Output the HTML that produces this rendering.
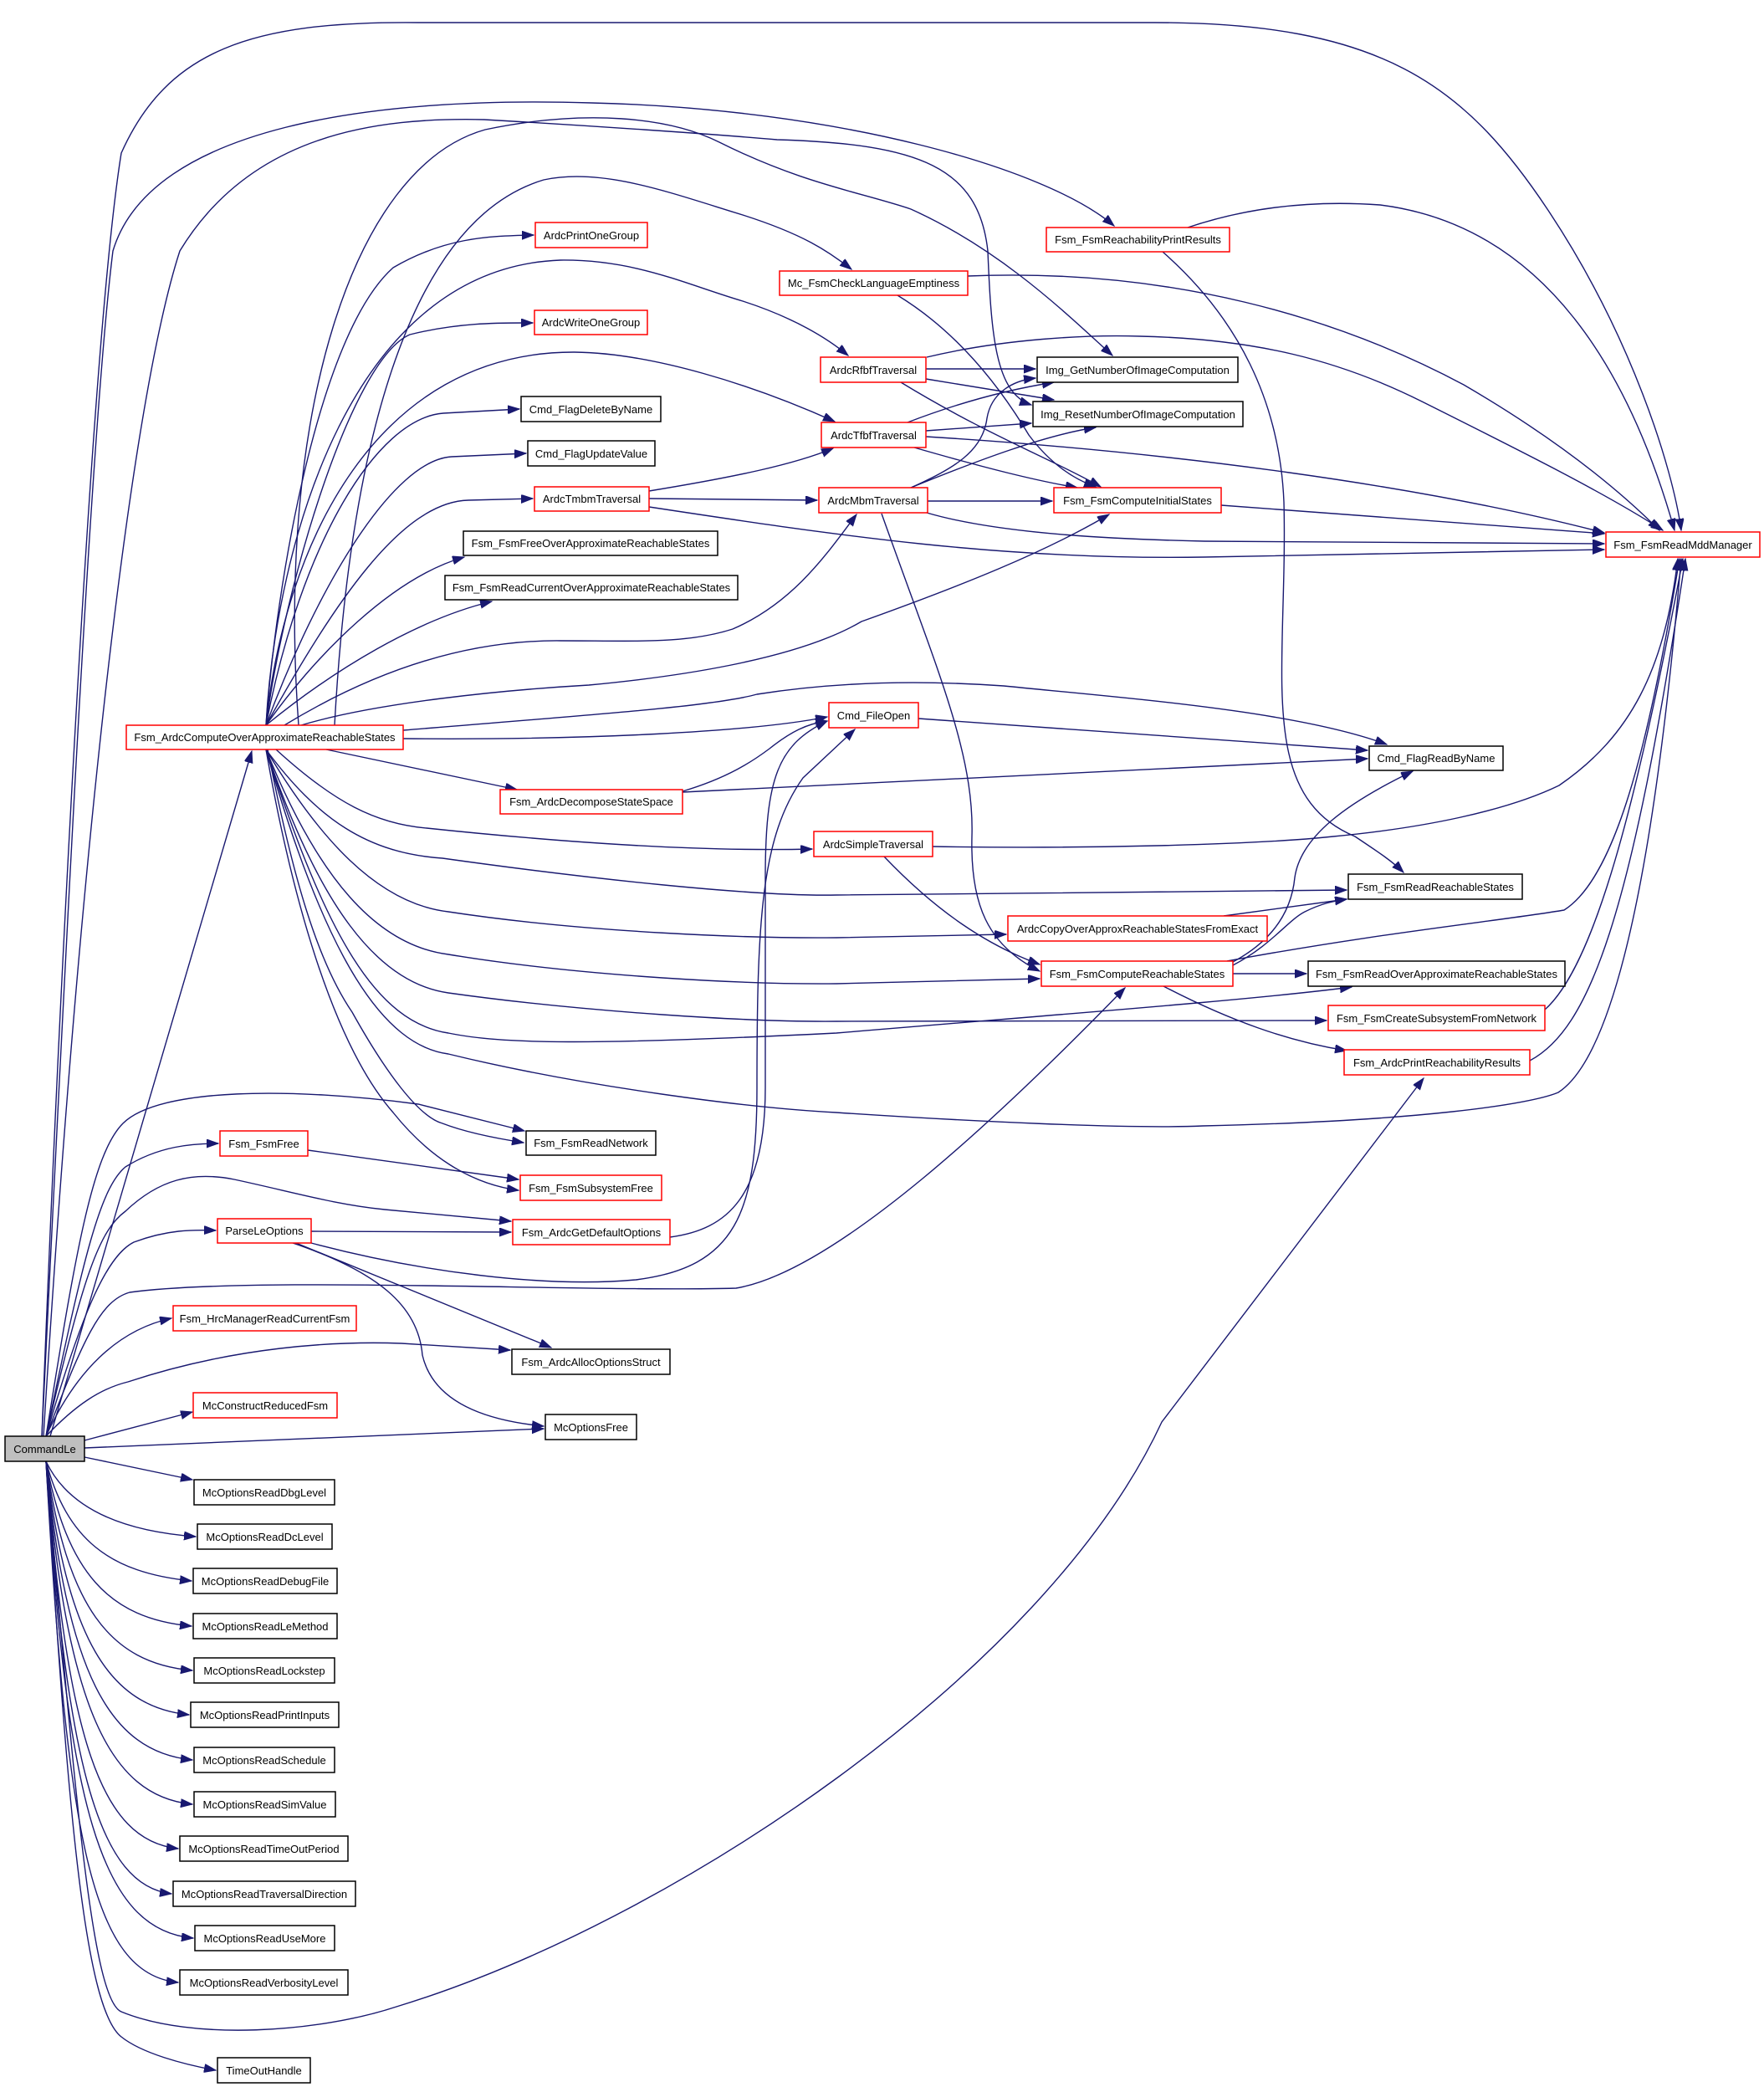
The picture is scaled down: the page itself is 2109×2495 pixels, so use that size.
<!DOCTYPE html>
<html><head><meta charset="utf-8"><style>
html,body{margin:0;padding:0;background:#fff}
svg{display:block}
text{font-family:"Liberation Sans",Arial,sans-serif;font-size:13px;fill:#000}
.e{fill:none;stroke:#191970;stroke-width:1.4}
.n{fill:#fff;stroke:#000;stroke-width:1.5}
.r{fill:#fff;stroke:#ff0000;stroke-width:1.5}
</style></head><body>
<svg width="2109" height="2495" viewBox="0 0 2109 2495" xmlns="http://www.w3.org/2000/svg">
<defs><marker id="a" markerUnits="userSpaceOnUse" markerWidth="16" markerHeight="12" refX="14" refY="5" orient="auto"><path d="M0,0 L14,5 L0,10 z" fill="#191970" stroke="#191970"/></marker></defs>
<g class="e" marker-end="url(#a)">
<path d="M50,1717 C70,1200 110,400 145,183 C200,60 300,25 500,27 L1380,27 C1650,27 1750,100 1850,250 C1950,400 2000,560 2010,634"/>
<path d="M50,1717 C80,1100 110,500 135,300 C180,150 450,115 707,123 C1000,130 1250,200 1332,270"/>
<path d="M52,1717 C90,1100 150,500 215,300 C300,160 450,140 579,143 C700,150 850,160 929,167 C1100,172 1170,200 1181,300 C1185,400 1190,470 1233,484"/>
<path d="M60,1717 L301,898"/>
<path d="M55,1717 C90,1500 110,1380 147,1343 C190,1300 350,1300 500,1320 L627,1352"/>
<path d="M55,1717 C100,1500 120,1420 150,1395 C190,1370 230,1367 261,1367"/>
<path d="M55,1717 C100,1520 120,1470 150,1448 C190,1410 230,1400 280,1410 C350,1425 400,1440 460,1446 L611,1460"/>
<path d="M55,1717 C100,1560 130,1500 160,1485 C200,1470 230,1470 258,1471"/>
<path d="M55,1717 C100,1600 120,1555 155,1545 C300,1525 700,1545 880,1540 C1000,1520 1200,1330 1345,1181"/>
<path d="M372,1486 C500,1520 650,1540 760,1530 C880,1515 905,1450 905,1300 C905,1100 910,1000 960,930 L1022,872"/>
<path d="M801,1479 C870,1470 915,1430 915,1300 L915,1050 C915,930 930,890 989,862"/>
<path d="M55,1717 C90,1640 140,1590 205,1576"/>
<path d="M55,1717 C90,1680 120,1660 153,1652 C280,1610 400,1603 480,1606 L610,1614"/>
<path d="M101,1722 L230,1688"/>
<path d="M101,1731 L650,1708"/>
<path d="M350,1486 C450,1520 500,1560 505,1620 C520,1685 600,1700 650,1705"/>
<path d="M354,1486 L659,1611"/>
<path d="M372,1472 L611,1473"/>
<path d="M368,1375 L620,1410"/>
<path d="M101,1742 L230,1769"/>
<path d="M55,1747 C80,1800 140,1830 234,1837"/>
<path d="M55,1747 C80,1840 130,1880 229,1890"/>
<path d="M55,1747 C80,1880 130,1935 229,1944"/>
<path d="M55,1747 C80,1920 130,1988 230,1997"/>
<path d="M55,1747 C80,1960 130,2040 226,2050"/>
<path d="M55,1747 C80,2000 130,2094 230,2104"/>
<path d="M55,1747 C80,2040 130,2147 230,2157"/>
<path d="M55,1747 C80,2080 120,2200 213,2210"/>
<path d="M55,1747 C80,2120 120,2254 205,2264"/>
<path d="M55,1747 C80,2160 120,2307 231,2317"/>
<path d="M55,1747 C80,2200 110,2360 213,2370"/>
<path d="M55,1747 C80,2150 100,2400 145,2435 C170,2455 220,2468 258,2475"/>
<path d="M55,1747 C90,2150 110,2390 145,2405 C230,2440 380,2430 474,2399 C800,2300 1250,2000 1389,1700 L1702,1289"/>
<path d="M318,867 C330,700 380,400 470,320 C530,285 580,282 638,281"/>
<path d="M318,867 C340,700 420,430 490,400 C550,385 600,386 637,386"/>
<path d="M318,867 C330,650 420,320 670,311 C760,310 820,340 888,360 C950,380 990,405 1014,425"/>
<path d="M318,867 C340,650 450,420 687,421 C780,422 900,460 998,504"/>
<path d="M318,867 C360,650 450,500 530,494 L621,489"/>
<path d="M318,867 C380,700 470,550 540,546 L629,542"/>
<path d="M318,867 C400,720 480,600 560,598 L637,596"/>
<path d="M318,867 C380,780 470,690 555,666"/>
<path d="M318,867 C400,800 500,740 588,719"/>
<path d="M340,867 C450,800 560,765 670,766 C760,766 820,770 876,752 C950,720 990,660 1024,615"/>
<path d="M360,867 C450,840 600,825 704,819 C800,810 950,790 1030,743 C1150,700 1250,660 1326,615"/>
<path d="M482,873 C700,855 850,845 905,830 C1000,815 1100,813 1200,820 C1350,835 1550,850 1658,890"/>
<path d="M357,867 C330,500 420,200 580,155 C700,130 800,140 860,170 C960,220 1030,230 1089,250 C1200,300 1280,380 1330,425"/>
<path d="M400,867 C420,500 500,260 650,215 C720,200 800,230 888,257 C960,280 990,300 1018,322"/>
<path d="M482,883 C700,885 900,875 989,857"/>
<path d="M390,896 L618,944"/>
<path d="M330,896 C400,960 450,985 510,990 C700,1010 850,1018 971,1015"/>
<path d="M318,896 C380,980 440,1020 529,1026 C700,1050 900,1072 1000,1070 C1200,1068 1450,1066 1610,1064"/>
<path d="M318,896 C380,1000 450,1080 536,1090 C700,1115 900,1122 1000,1121 L1203,1117"/>
<path d="M318,896 C380,1050 450,1130 536,1141 C700,1168 900,1177 1000,1176 L1243,1170"/>
<path d="M318,896 C380,1080 450,1175 536,1187 C700,1210 900,1222 1000,1221 L1586,1220"/>
<path d="M318,896 C390,1120 450,1222 536,1235 C600,1248 700,1250 1000,1235 C1300,1210 1500,1195 1616,1180"/>
<path d="M318,896 C390,1150 460,1250 536,1260 C700,1300 900,1325 1000,1330 C1150,1340 1350,1350 1438,1346 C1700,1340 1830,1320 1863,1306 C1950,1250 1990,900 2010,668"/>
<path d="M320,896 C350,1050 380,1150 421,1210 C460,1280 500,1335 529,1343 C560,1355 600,1362 626,1366"/>
<path d="M318,896 C350,1080 400,1250 470,1330 C510,1380 560,1415 620,1423"/>
<path d="M1157,330 C1400,320 1600,380 1750,460 C1870,530 1940,590 1984,634"/>
<path d="M1073,353 C1150,400 1200,470 1230,520 C1260,560 1290,575 1310,582"/>
<path d="M1420,272 C1500,245 1580,240 1650,245 C1850,270 1950,450 2002,634"/>
<path d="M1390,301 C1480,380 1530,480 1535,600 C1540,800 1500,950 1620,1000 C1650,1020 1665,1030 1678,1043"/>
<path d="M1107,441 L1238,441"/>
<path d="M1107,453 L1260,478"/>
<path d="M1077,457 C1180,520 1260,550 1316,582"/>
<path d="M1108,427 C1200,405 1300,400 1363,402 C1500,405 1600,430 1700,480 C1820,540 1920,590 1988,634"/>
<path d="M1085,505 C1150,480 1210,465 1260,457"/>
<path d="M1107,515 L1233,506"/>
<path d="M1093,535 C1180,560 1240,575 1288,583"/>
<path d="M1107,522 C1400,540 1700,580 1918,637"/>
<path d="M776,587 C880,570 950,555 996,536"/>
<path d="M776,596 L977,598"/>
<path d="M776,606 C1000,640 1200,670 1440,666 C1650,663 1800,660 1918,657"/>
<path d="M1109,599 L1258,599"/>
<path d="M1089,583 C1140,560 1175,540 1180,500 C1185,470 1210,455 1238,452"/>
<path d="M1089,583 C1170,550 1250,520 1310,511"/>
<path d="M1108,613 C1200,640 1350,645 1440,647 L1918,650"/>
<path d="M1054,614 C1120,800 1165,900 1162,1000 C1160,1080 1180,1130 1243,1161"/>
<path d="M1460,604 L1918,638"/>
<path d="M1098,859 L1635,897"/>
<path d="M816,946 C870,930 900,910 920,895 C945,875 965,865 989,862"/>
<path d="M816,947 L1635,907"/>
<path d="M1115,1012 C1300,1015 1500,1010 1594,1000 C1700,990 1800,970 1864,939 C1950,880 1990,800 2006,668"/>
<path d="M1057,1024 C1120,1090 1180,1130 1243,1153"/>
<path d="M1463,1095 L1610,1075"/>
<path d="M1474,1154 C1520,1130 1540,1100 1560,1090 C1580,1080 1595,1077 1610,1075"/>
<path d="M1474,1150 C1530,1120 1545,1080 1548,1049 C1555,1000 1610,960 1689,922"/>
<path d="M1467,1149 C1650,1115 1800,1100 1870,1088 C1930,1050 1970,900 2008,668"/>
<path d="M1474,1164 L1562,1164"/>
<path d="M1391,1179 C1470,1220 1540,1245 1610,1256"/>
<path d="M1847,1207 C1900,1160 1950,1000 2012,668"/>
<path d="M1829,1268 C1900,1230 1950,1100 2015,668"/>
</g>
<g>
<rect x="6" y="1717" width="95" height="30" fill="#bfbfbf" stroke="#000" stroke-width="1.5"/><text x="53.5" y="1737" text-anchor="middle">CommandLe</text>
<rect class="r" x="231" y="1665" width="172" height="30"/><text x="317" y="1685" text-anchor="middle">McConstructReducedFsm</text>
<rect class="n" x="652" y="1691" width="109" height="30"/><text x="706.5" y="1711" text-anchor="middle">McOptionsFree</text>
<rect class="n" x="232" y="1769" width="168" height="30"/><text x="316" y="1789" text-anchor="middle">McOptionsReadDbgLevel</text>
<rect class="n" x="236" y="1822" width="161" height="30"/><text x="316.5" y="1842" text-anchor="middle">McOptionsReadDcLevel</text>
<rect class="n" x="231" y="1875" width="172" height="30"/><text x="317" y="1895" text-anchor="middle">McOptionsReadDebugFile</text>
<rect class="n" x="231" y="1929" width="172" height="30"/><text x="317" y="1949" text-anchor="middle">McOptionsReadLeMethod</text>
<rect class="n" x="232" y="1982" width="168" height="30"/><text x="316" y="2002" text-anchor="middle">McOptionsReadLockstep</text>
<rect class="n" x="228" y="2035" width="177" height="30"/><text x="316.5" y="2055" text-anchor="middle">McOptionsReadPrintInputs</text>
<rect class="n" x="232" y="2089" width="168" height="30"/><text x="316" y="2109" text-anchor="middle">McOptionsReadSchedule</text>
<rect class="n" x="232" y="2142" width="169" height="30"/><text x="316.5" y="2162" text-anchor="middle">McOptionsReadSimValue</text>
<rect class="n" x="215" y="2195" width="201" height="30"/><text x="315.5" y="2215" text-anchor="middle">McOptionsReadTimeOutPeriod</text>
<rect class="n" x="207" y="2249" width="218" height="30"/><text x="316" y="2269" text-anchor="middle">McOptionsReadTraversalDirection</text>
<rect class="n" x="233" y="2302" width="167" height="30"/><text x="316.5" y="2322" text-anchor="middle">McOptionsReadUseMore</text>
<rect class="n" x="215" y="2355" width="201" height="30"/><text x="315.5" y="2375" text-anchor="middle">McOptionsReadVerbosityLevel</text>
<rect class="n" x="260" y="2460" width="111" height="30"/><text x="315.5" y="2480" text-anchor="middle">TimeOutHandle</text>
<rect class="r" x="640" y="266" width="134" height="30"/><text x="707" y="286" text-anchor="middle">ArdcPrintOneGroup</text>
<rect class="r" x="932" y="324" width="225" height="29"/><text x="1044.5" y="343" text-anchor="middle">Mc_FsmCheckLanguageEmptiness</text>
<rect class="r" x="639" y="371" width="135" height="29"/><text x="706.5" y="390" text-anchor="middle">ArdcWriteOneGroup</text>
<rect class="r" x="981" y="427" width="126" height="30"/><text x="1044" y="447" text-anchor="middle">ArdcRfbfTraversal</text>
<rect class="n" x="623" y="474" width="167" height="30"/><text x="706.5" y="494" text-anchor="middle">Cmd_FlagDeleteByName</text>
<rect class="n" x="631" y="527" width="152" height="30"/><text x="707" y="547" text-anchor="middle">Cmd_FlagUpdateValue</text>
<rect class="r" x="982" y="505" width="125" height="30"/><text x="1044.5" y="525" text-anchor="middle">ArdcTfbfTraversal</text>
<rect class="r" x="639" y="582" width="137" height="29"/><text x="707.5" y="601" text-anchor="middle">ArdcTmbmTraversal</text>
<rect class="r" x="979" y="583" width="130" height="30"/><text x="1044" y="603" text-anchor="middle">ArdcMbmTraversal</text>
<rect class="n" x="554" y="635" width="304" height="29"/><text x="706" y="654" text-anchor="middle">Fsm_FsmFreeOverApproximateReachableStates</text>
<rect class="n" x="532" y="688" width="350" height="29"/><text x="707" y="707" text-anchor="middle">Fsm_FsmReadCurrentOverApproximateReachableStates</text>
<rect class="r" x="151" y="867" width="331" height="29"/><text x="316.5" y="886" text-anchor="middle">Fsm_ArdcComputeOverApproximateReachableStates</text>
<rect class="r" x="598" y="944" width="218" height="29"/><text x="707" y="963" text-anchor="middle">Fsm_ArdcDecomposeStateSpace</text>
<rect class="r" x="991" y="840" width="107" height="30"/><text x="1044.5" y="860" text-anchor="middle">Cmd_FileOpen</text>
<rect class="r" x="1251" y="272" width="219" height="29"/><text x="1360.5" y="291" text-anchor="middle">Fsm_FsmReachabilityPrintResults</text>
<rect class="n" x="1240" y="427" width="240" height="30"/><text x="1360" y="447" text-anchor="middle">Img_GetNumberOfImageComputation</text>
<rect class="n" x="1235" y="480" width="251" height="30"/><text x="1360.5" y="500" text-anchor="middle">Img_ResetNumberOfImageComputation</text>
<rect class="r" x="1260" y="583" width="200" height="30"/><text x="1360" y="603" text-anchor="middle">Fsm_FsmComputeInitialStates</text>
<rect class="r" x="1920" y="636" width="184" height="30"/><text x="2012" y="656" text-anchor="middle">Fsm_FsmReadMddManager</text>
<rect class="n" x="1637" y="892" width="160" height="29"/><text x="1717" y="911" text-anchor="middle">Cmd_FlagReadByName</text>
<rect class="r" x="973" y="994" width="142" height="30"/><text x="1044" y="1014" text-anchor="middle">ArdcSimpleTraversal</text>
<rect class="n" x="1612" y="1045" width="208" height="30"/><text x="1716" y="1065" text-anchor="middle">Fsm_FsmReadReachableStates</text>
<rect class="r" x="1205" y="1095" width="310" height="30"/><text x="1360" y="1115" text-anchor="middle">ArdcCopyOverApproxReachableStatesFromExact</text>
<rect class="r" x="1245" y="1149" width="229" height="30"/><text x="1359.5" y="1169" text-anchor="middle">Fsm_FsmComputeReachableStates</text>
<rect class="n" x="1564" y="1149" width="307" height="30"/><text x="1717.5" y="1169" text-anchor="middle">Fsm_FsmReadOverApproximateReachableStates</text>
<rect class="r" x="1588" y="1202" width="259" height="30"/><text x="1717.5" y="1222" text-anchor="middle">Fsm_FsmCreateSubsystemFromNetwork</text>
<rect class="r" x="1607" y="1255" width="222" height="30"/><text x="1718" y="1275" text-anchor="middle">Fsm_ArdcPrintReachabilityResults</text>
<rect class="n" x="629" y="1352" width="155" height="29"/><text x="706.5" y="1371" text-anchor="middle">Fsm_FsmReadNetwork</text>
<rect class="r" x="263" y="1352" width="105" height="30"/><text x="315.5" y="1372" text-anchor="middle">Fsm_FsmFree</text>
<rect class="r" x="622" y="1405" width="169" height="30"/><text x="706.5" y="1425" text-anchor="middle">Fsm_FsmSubsystemFree</text>
<rect class="r" x="260" y="1457" width="112" height="29"/><text x="316" y="1476" text-anchor="middle">ParseLeOptions</text>
<rect class="r" x="613" y="1458" width="188" height="30"/><text x="707" y="1478" text-anchor="middle">Fsm_ArdcGetDefaultOptions</text>
<rect class="r" x="207" y="1561" width="219" height="30"/><text x="316.5" y="1581" text-anchor="middle">Fsm_HrcManagerReadCurrentFsm</text>
<rect class="n" x="612" y="1613" width="189" height="30"/><text x="706.5" y="1633" text-anchor="middle">Fsm_ArdcAllocOptionsStruct</text>
</g>
</svg>
</body></html>
